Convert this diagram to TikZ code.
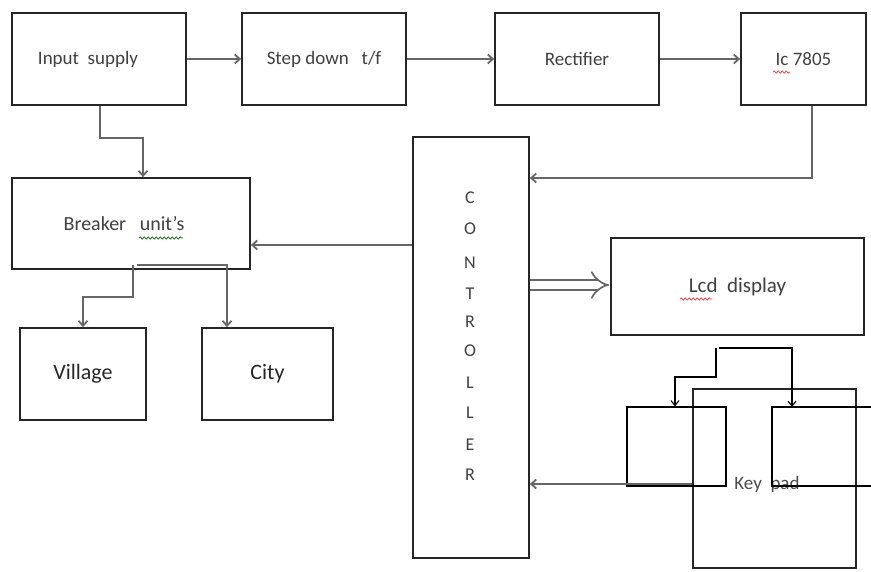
\documentclass[tikz,border=0pt]{standalone}
\usepackage{fontspec}
\setmainfont{Carlito}
\usetikzlibrary{arrows.meta,decorations.pathmorphing}
\begin{document}
\begin{tikzpicture}[x=1pt,y=-1pt,
  box/.style={draw=black!85,line width=1.8pt,rectangle,inner sep=0pt,
    font=\fontsize{19}{22}\selectfont,text=black!75},
  bigbox/.style={box,font=\fontsize{22}{24}\selectfont,text=black!85},
  smallbox/.style={draw=black,line width=1.2pt,rectangle,inner sep=0pt},
  conn/.style={draw=black!60,line width=1.8pt,-{Straight Barb[length=5pt,width=9pt]}},
  thinconn/.style={draw=black,line width=1.1pt,-{Straight Barb[length=5pt,width=8pt]}},
  squig/.style={decorate,decoration={snake,amplitude=1.1pt,segment length=4pt},line width=0.7pt},
  letter/.style={font=\fontsize{18}{19}\selectfont,text=black!75,inner sep=0pt}]
\useasboundingbox (0,0) rectangle (871,571);

% boxes
\node[box,minimum width=174pt,minimum height=92pt] (inp) at (99,59) {\hspace*{-22pt}Input\ \ supply};
\node[box,minimum width=164pt,minimum height=92pt] (step) at (324,59) {Step down\ \ \ t/f};
\node[box,minimum width=164pt,minimum height=92pt] (rect) at (577,59) {Rectifier};
\node[box,minimum width=125pt,minimum height=92pt] (ic) at (803.5,59) {Ic 7805};
\node[box,minimum width=238pt,minimum height=91pt,font=\fontsize{20}{22}\selectfont] (brk) at (131,223.5) {\hspace*{-14pt}Breaker\ \ \ unit’s};
\node[bigbox,minimum width=126pt,minimum height=92pt] (vil) at (83,374) {Village};
\node[bigbox,minimum width=131pt,minimum height=92pt] (city) at (267.5,374) {City};
\node[box,minimum width=116pt,minimum height=421pt] (ctrl) at (471,347.5) {};
\node[box,minimum width=253pt,minimum height=97pt,font=\fontsize{21}{23}\selectfont] (lcd) at (737.5,286.5) {Lcd\ \ display};
\node[box,minimum width=163pt,minimum height=179pt] (key) at (774.5,478.5) {};
\node[text=black!70,font=\fontsize{19}{22}\selectfont,inner sep=0pt] (keytext) at (767,484) {Key\ \ pad};
\node[smallbox,minimum width=99pt,minimum height=79pt] (sb1) at (676.5,446.5) {};
\draw[black,line width=1.2pt] (871,407) -- (772,407) -- (772,486) -- (871,486);

% controller letters
\foreach \ch/\yy [count=\i] in {C/198,O/229,N/263,T/294,R/322,O/351,L/383,L/413,E/445,R/475}
  \node[letter] (cl\i) at (470,\yy) {\ch};

% spell-check squiggles
\draw[squig,red!80] (773,72) -- (790,72);
\draw[squig,red!80] (680,299) -- (712,299);
\draw[squig,green!40!black] (139,238) -- (183,238);

% connectors
\draw[conn] (inp.east) -- (step.west);
\draw[conn] (step.east) -- (rect.west);
\draw[conn] (rect.east) -- (ic.west);
\draw[conn] ([xshift=1pt]inp.south) -- ++(0,32) -| ([xshift=12pt]brk.north);
\draw[conn] ([xshift=8.5pt]ic.south) |- (ctrl.east |- 0,178);
\draw[conn] (ctrl.west |- 0,245) -- (brk.east |- 0,245);
\coordinate (bv) at (133,265);
\coordinate (bc) at (137,265);
\draw[conn] (bv) -- (133,297) -| (vil.north);
\draw[conn] (bc) -| (city.north -| 227,0);
\draw[draw=black!60,line width=1.7pt,double distance=8pt,-{Implies[length=9pt]}]
  (ctrl.east |- 0,285) -- ([xshift=-1pt]lcd.west |- 0,285);
\draw[conn] (key.west |- 0,484) -- (ctrl.east |- 0,484);
\coordinate (ka) at (716,348);
\coordinate (kb) at (719,348);
\coordinate (sb2) at (792,407);
\draw[thinconn] (ka) -- (716,377) -| (sb1.north -| 675,0);
\draw[thinconn] (kb) -| (sb2);
\end{tikzpicture}
\end{document}
